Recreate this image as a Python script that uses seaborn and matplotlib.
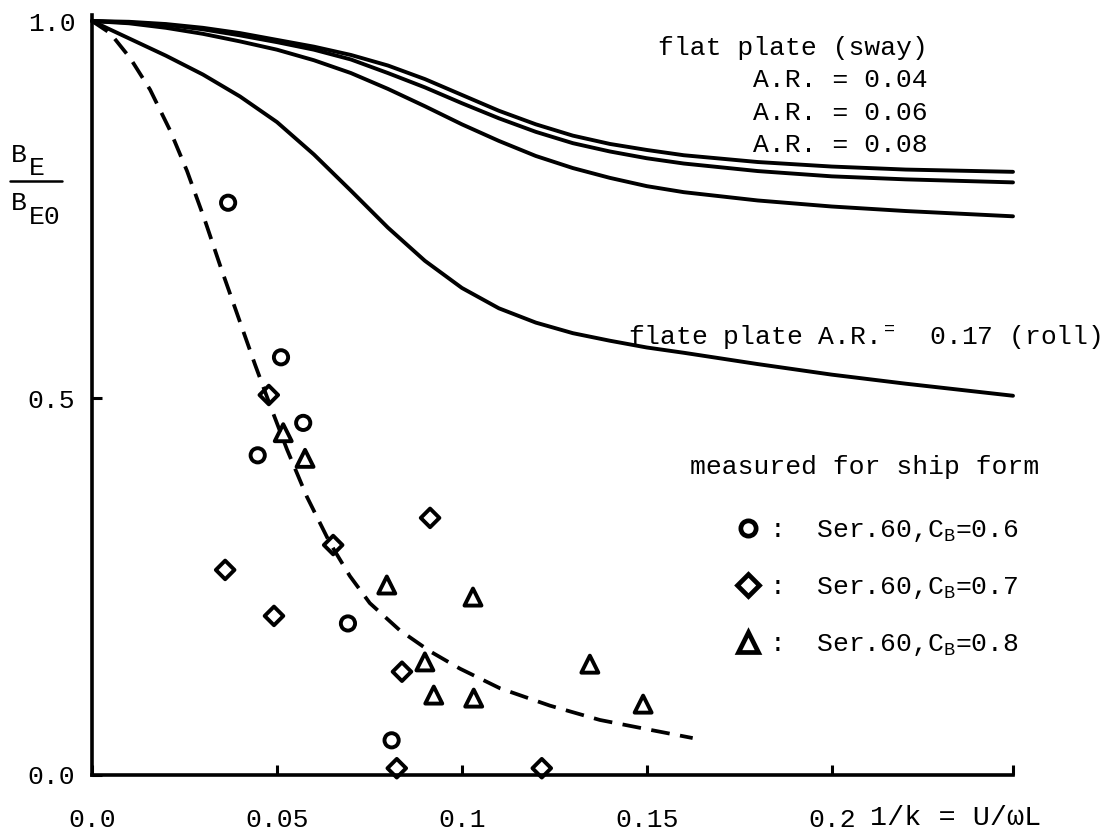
import numpy as np
import pandas as pd
import matplotlib
matplotlib.use("Agg")
import matplotlib.pyplot as plt
import seaborn as sns
from matplotlib.lines import Line2D

# ---------------- data ----------------
x_curve = [0.0, 0.01, 0.02, 0.03, 0.04, 0.05, 0.06, 0.07, 0.08, 0.09, 0.10,
           0.11, 0.12, 0.13, 0.14, 0.15, 0.16, 0.18, 0.20, 0.22, 0.249]
y_ar004 = [1.0, 0.999, 0.996, 0.991, 0.984, 0.975, 0.966, 0.955, 0.941, 0.923, 0.902,
           0.881, 0.863, 0.848, 0.837, 0.829, 0.822, 0.813, 0.807, 0.803, 0.800]
y_ar006 = [1.0, 0.998, 0.995, 0.989, 0.981, 0.972, 0.962, 0.949, 0.931, 0.912, 0.891,
           0.871, 0.853, 0.838, 0.827, 0.818, 0.811, 0.801, 0.794, 0.790, 0.786]
y_ar008 = [1.0, 0.997, 0.991, 0.983, 0.973, 0.962, 0.948, 0.931, 0.910, 0.887, 0.863,
           0.841, 0.821, 0.805, 0.792, 0.781, 0.773, 0.762, 0.754, 0.748, 0.741]
y_roll017 = [1.0, 0.977, 0.954, 0.929, 0.900, 0.866, 0.823, 0.775, 0.726, 0.682, 0.646,
             0.619, 0.600, 0.586, 0.576, 0.567, 0.560, 0.545, 0.531, 0.519, 0.503]

x_fit = [0.0, 0.0049, 0.0103, 0.0157, 0.0211, 0.0257, 0.0305, 0.0349, 0.0400, 0.0441,
         0.0481, 0.0527, 0.0581, 0.0643, 0.0697, 0.0751, 0.0832, 0.0914, 0.0995,
         0.1103, 0.1238, 0.1373, 0.1508, 0.1624]
y_fit = [1.0, 0.984, 0.951, 0.909, 0.855, 0.801, 0.736, 0.672, 0.601, 0.544,
         0.491, 0.432, 0.369, 0.308, 0.264, 0.228, 0.192, 0.164, 0.141,
         0.115, 0.092, 0.073, 0.060, 0.049]

x_cb06 = [0.0368, 0.0511, 0.0571, 0.0448, 0.0692, 0.0810]
y_cb06 = [0.759, 0.554, 0.467, 0.424, 0.201, 0.046]
x_cb07 = [0.0478, 0.0914, 0.0652, 0.0360, 0.0492, 0.0838, 0.0824, 0.1216]
y_cb07 = [0.504, 0.341, 0.305, 0.272, 0.211, 0.137, 0.009, 0.009]
x_cb08 = [0.0517, 0.0576, 0.0797, 0.1030, 0.0900, 0.0924, 0.1032, 0.1346, 0.1490]
y_cb08 = [0.454, 0.420, 0.252, 0.236, 0.150, 0.106, 0.102, 0.147, 0.094]

legend_labels = [r":  Ser.60,C$_\mathregular{B}$=0.6",
                 r":  Ser.60,C$_\mathregular{B}$=0.7",
                 r":  Ser.60,C$_\mathregular{B}$=0.8"]
xticks = [0.0, 0.05, 0.1, 0.15, 0.2]
xtick_labels = ["0.0", "0.05", "0.1", "0.15", "0.2"]
yticks = [0.0, 0.5, 1.0]
ytick_labels = ["0.0", "0.5", "1.0"]

# ---------------- style ----------------
sns.set_theme(style="white")
plt.rcParams["font.family"] = ["Liberation Mono", "DejaVu Sans Mono"]
plt.rcParams["mathtext.fontset"] = "custom"
plt.rcParams["mathtext.rm"] = "Liberation Mono"
plt.rcParams["mathtext.it"] = "Liberation Mono"
FS = 19

W, H = 1120, 831
fig = plt.figure(figsize=(W / 100, H / 100), dpi=100)
ax = fig.add_axes([92 / W, 56 / H, 921 / W, 760 / H])

for yc in [y_ar004, y_ar006, y_ar008, y_roll017]:
    sns.lineplot(x=x_curve, y=yc, ax=ax, color="black", lw=2.8,
                 estimator=None, sort=False, clip_on=False)

sns.lineplot(x=x_fit, y=y_fit, ax=ax, color="black", lw=2.7,
             linestyle=(0, (5.0, 2.8)), estimator=None, sort=False, clip_on=False)

common = dict(ax=ax, facecolors="none", edgecolor="black", linewidth=2.8,
              clip_on=False, zorder=5)
sns.scatterplot(x=x_cb06, y=y_cb06, marker="o", s=105, **common)
sns.scatterplot(x=x_cb07, y=y_cb07, marker="D", s=90, **common)
sns.scatterplot(x=x_cb08, y=y_cb08, marker="^", s=150, **common)

ax.set_xlim(0, 0.249)
ax.set_ylim(0, 1.008)
ax.set_xticks(xticks, xtick_labels)
ax.set_yticks(yticks, ytick_labels)
ax.set_xticks([0.249], minor=True)
ax.tick_params(axis="both", which="both", direction="in", length=7, width=2.2,
               color="black", labelsize=FS, labelcolor="black")
ax.tick_params(axis="x", which="both", pad=24, bottom=True)
ax.tick_params(axis="y", pad=12, left=True)
for s in ["top", "right"]:
    ax.spines[s].set_visible(False)
for s in ["left", "bottom"]:
    ax.spines[s].set_color("black")
    ax.spines[s].set_linewidth(2.6)
ax.set_xlabel("")
ax.set_ylabel("")

# y-axis label drawn as a stacked fraction  B_E / B_E0
def fpx(xp, yp):
    return xp / W, 1 - yp / H

lab = dict(fontsize=FS, color="black", ha="left", va="center")
fig.text(*fpx(11, 155), "B", **lab)
fig.text(*fpx(29, 168), "E", **lab)
fig.text(*fpx(11, 203), "B", **lab)
fig.text(*fpx(29, 217), "E0", **lab)
fig.add_artist(Line2D([10 / W, 62 / W], [1 - 181 / H, 1 - 181 / H],
                      color="black", lw=1.8, transform=fig.transFigure))

# annotations
def px(xp, yp):
    return (xp - 92) / 3700.0, (775 - yp) / 754.0

tk = dict(fontsize=FS, color="black", va="center")
ax.text(*px(928, 48), "flat plate (sway)", ha="right", **tk)
ax.text(*px(928, 80), "A.R. = 0.04", ha="right", **tk)
ax.text(*px(928, 113), "A.R. = 0.06", ha="right", **tk)
ax.text(*px(928, 145), "A.R. = 0.08", ha="right", **tk)
ax.text(*px(628, 337), r"flate plate A.R.$^\mathregular{=}$  0.17 (roll)", ha="left", **tk)
ax.text(*px(690, 467), "measured for ship form", ha="left", **tk)
fig.text(*fpx(870, 818), "1/k = U/\u03c9L", fontsize=20.5, color="black",
         ha="left", va="center")

handles = [Line2D([], [], marker=m, ls="none", mfc="none", mec="black", mew=3.4, ms=ms)
           for m, ms in [("o", 11), ("D", 11), ("^", 14)]]
ax.legend(handles, legend_labels, loc="upper left",
          bbox_to_anchor=(735 / W, 1 - 518 / H), bbox_transform=fig.transFigure,
          frameon=False, fontsize=FS, handlelength=1.0, handletextpad=0.3,
          labelspacing=1.17, borderpad=0, borderaxespad=0, labelcolor="black")

fig.savefig("out.png", dpi=100, facecolor="white")
